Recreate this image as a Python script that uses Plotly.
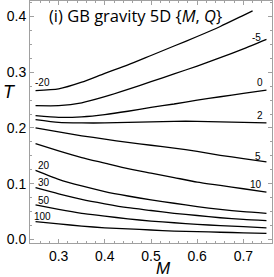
import plotly.graph_objects as go

M_grid = [0.25, 0.30, 0.35, 0.40, 0.45, 0.50, 0.55, 0.60, 0.65, 0.70, 0.75]
M_grid_m20 = [0.25, 0.30, 0.35, 0.40, 0.45, 0.50, 0.55, 0.60, 0.65, 0.70, 0.72]

T_m20 = [0.267, 0.270, 0.282, 0.298, 0.313, 0.330, 0.347, 0.364, 0.382, 0.402, 0.410]
T_m5 = [0.240, 0.240, 0.245, 0.256, 0.269, 0.283, 0.297, 0.311, 0.326, 0.342, 0.359]
T_0 = [0.222, 0.219, 0.220, 0.224, 0.230, 0.237, 0.243, 0.250, 0.256, 0.262, 0.268]
T_2 = [0.215, 0.210, 0.209, 0.209, 0.210, 0.211, 0.212, 0.212, 0.211, 0.210, 0.209]
T_5 = [0.200, 0.193, 0.186, 0.180, 0.174, 0.169, 0.164, 0.158, 0.151, 0.145, 0.139]
T_10 = [0.172, 0.159, 0.147, 0.137, 0.127, 0.119, 0.111, 0.103, 0.097, 0.091, 0.085]
T_20 = [0.124, 0.108, 0.096, 0.086, 0.078, 0.071, 0.065, 0.059, 0.054, 0.050, 0.047]
T_30 = [0.093, 0.082, 0.072, 0.064, 0.057, 0.052, 0.047, 0.043, 0.039, 0.036, 0.034]
T_50 = [0.062, 0.054, 0.047, 0.042, 0.037, 0.033, 0.030, 0.027, 0.025, 0.023, 0.021]
T_100 = [0.032, 0.028, 0.024, 0.021, 0.019, 0.017, 0.015, 0.014, 0.013, 0.012, 0.011]

labels = ["-20", "-5", "0", "2", "5", "10", "20", "30", "50", "100"]
label_M = [0.266, 0.729, 0.736, 0.736, 0.731, 0.727, 0.269, 0.269, 0.269, 0.266]
label_T = [0.281, 0.363, 0.281, 0.222, 0.149, 0.099, 0.133, 0.103, 0.0705, 0.042]

x_ticks = [0.3, 0.4, 0.5, 0.6, 0.7]
y_ticks = [0.0, 0.1, 0.2, 0.3, 0.4]
y_ticklabels = ["0.0", "0.1", "0.2", "0.3", "0.4"]

series = [
    (M_grid_m20, T_m20), (M_grid, T_m5), (M_grid, T_0), (M_grid, T_2), (M_grid, T_5),
    (M_grid, T_10), (M_grid, T_20), (M_grid, T_30), (M_grid, T_50), (M_grid, T_100),
]

fig = go.Figure()
for (xs, ys), name in zip(series, labels):
    fig.add_trace(go.Scatter(x=xs, y=ys, mode="lines", name=name,
                             line=dict(color="black", width=1.3, shape="spline", smoothing=0.6),
                             showlegend=False, hoverinfo="skip"))

for t, mx, ty in zip(labels, label_M, label_T):
    fig.add_annotation(x=mx, y=ty, text=t, showarrow=False,
                       font=dict(family="Liberation Sans, Arial", size=10, color="black"))

fig.add_annotation(xref="paper", yref="paper", x=0.07, y=0.94, xanchor="left", yanchor="middle",
                   text="(i) GB gravity 5D {<i>M</i>, <i>Q</i>}", showarrow=False,
                   font=dict(family="Open Sans, Liberation Sans", size=16.5, color="black"))
fig.add_annotation(xref="paper", yref="paper", x=-0.083, y=0.624, xanchor="center", yanchor="middle",
                   text="<i>T</i>", showarrow=False,
                   font=dict(family="Liberation Sans, Arial", size=18, color="black"))
fig.add_annotation(xref="paper", yref="paper", x=0.55, y=-0.106, xanchor="center", yanchor="middle",
                   text="<i>M</i>", showarrow=False,
                   font=dict(family="Liberation Sans, Arial", size=17, color="black"))

axis_common = dict(showgrid=False, zeroline=False, showline=True, linecolor="#a0a0a0", linewidth=1,
                   mirror="allticks", ticks="inside", ticklen=4, tickcolor="#a0a0a0", tickwidth=1,
                   tickfont=dict(family="Liberation Sans, Arial", size=14, color="black"))

fig.update_xaxes(range=[0.238, 0.762], tickvals=x_ticks, ticktext=[str(v) for v in x_ticks],
                 minor=dict(dtick=0.02, ticks="inside", ticklen=2, tickcolor="#a0a0a0", tick0=0.0),
                 ticklabelstandoff=0, **axis_common)
fig.update_yaxes(range=[-0.0063, 0.4277], tickvals=y_ticks, ticktext=y_ticklabels,
                 minor=dict(dtick=0.025, ticks="inside", ticklen=2, tickcolor="#a0a0a0", tick0=0.0),
                 ticklabelstandoff=0, **axis_common)

fig.update_layout(width=274, height=277, margin=dict(l=30, r=2, t=1, b=34),
                  plot_bgcolor="white", paper_bgcolor="white")
fig.write_html("out.html", config={"displayModeBar": False},
               post_script="document.body.style.margin='0px';document.body.style.overflow='hidden';")
